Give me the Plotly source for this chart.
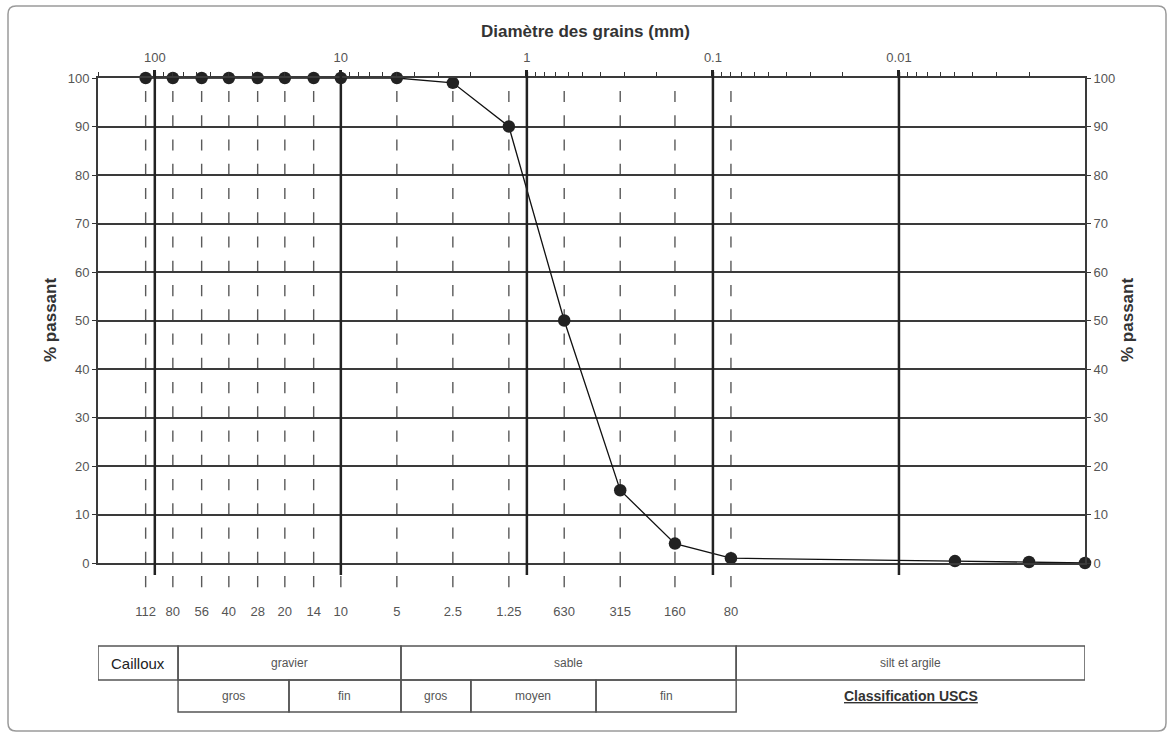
import math
import plotly.graph_objects as go

# ---------------- data ----------------
sieve_mm = [112, 80, 56, 40, 28, 20, 14, 10, 5, 2.5, 1.25, 0.63, 0.315, 0.16, 0.08]
sieve_labels = ["112", "80", "56", "40", "28", "20", "14", "10", "5", "2.5", "1.25",
                "630", "315", "160", "80"]
fine_mm = [0.005, 0.002, 0.001]
diam_mm = sieve_mm + fine_mm
passing = [100, 100, 100, 100, 100, 100, 100, 100, 100, 99, 90, 50, 15, 4, 1, 0.4, 0.2, 0]
decades = [100, 10, 1, 0.1, 0.01]
decade_labels = ["100", "10", "1", "0.1", "0.01"]
y_ticks = list(range(0, 101, 10))

x_max_mm = 202
x_min_mm = 0.001
# USCS class boundaries (mm)
b_cail, b_grav_gf, b_grav_sab, b_sab_gm, b_sab_mf, b_sab_silt = 75, 19, 4.75, 2.0, 0.425, 0.075
row1_cells = [(x_max_mm, b_cail, "Cailloux"), (b_cail, b_grav_sab, "gravier"),
              (b_grav_sab, b_sab_silt, "sable"), (b_sab_silt, x_min_mm, "silt et argile")]
row2_cells = [(b_cail, b_grav_gf, "gros"), (b_grav_gf, b_grav_sab, "fin"),
              (b_grav_sab, b_sab_gm, "gros"), (b_sab_gm, b_sab_mf, "moyen"),
              (b_sab_mf, b_sab_silt, "fin")]
classif_text = "Classification USCS"

# ---------------- layout geometry ----------------
W, H = 1173, 736
L, R, T, B = 98, 88, 78, 173
PW, PH = W - L - R, H - T - B


def py(pix):  # pixel y -> paper y
    return (H - B - pix) / PH


def px(pix):  # pixel x -> paper x
    return (pix - L) / PW


xr = [math.log10(x_max_mm), math.log10(x_min_mm)]
minor_vals = [m * 10 ** k for k in range(-3, 3) for m in range(2, 10)
              if x_min_mm < m * 10 ** k < x_max_mm]

DARK = "#333333"
GRID = "#3a3a3a"
LABEL = "#555555"
FONT = "Liberation Sans, Arial, sans-serif"

fig = go.Figure()
fig.add_trace(go.Scatter(
    x=diam_mm, y=passing, mode="lines+markers",
    line=dict(color="#111111", width=1.3),
    marker=dict(color="#222222", size=12.5),
    cliponaxis=False, showlegend=False, hoverinfo="x+y"))
# helper traces to activate top and right axes
fig.add_trace(go.Scatter(x=diam_mm, y=passing, xaxis="x2", yaxis="y", mode="markers",
                         marker=dict(opacity=0), hoverinfo="skip", showlegend=False))
fig.add_trace(go.Scatter(x=diam_mm, y=passing, xaxis="x", yaxis="y2", mode="markers",
                         marker=dict(opacity=0), hoverinfo="skip", showlegend=False))

shapes = []
# dashed sieve lines
period = PH / 20.0
for s in sieve_mm:
    shapes.append(dict(type="line", xref="x", yref="paper", x0=s, x1=s,
                       y0=py(H - B + period), y1=py(T + 12.5),
                       line=dict(color="#5a5a5a", width=1.4,
                                 dash="%.2fpx,%.2fpx" % (period * 0.46, period * 0.54)),
                       layer="below"))
# decade lines
for d in decades:
    shapes.append(dict(type="line", xref="x", yref="paper", x0=d, x1=d,
                       y0=py(H - B + 12), y1=py(T - 6),
                       line=dict(color="#222222", width=2.5), layer="above"))

# table
r1_top, r1_bot, r2_bot = py(646), py(680), py(712)
tbl_line = dict(color="#555555", width=1.5)
for (a, b, _) in row1_cells:
    shapes.append(dict(type="rect", xref="x", yref="paper", x0=a, x1=b,
                       y0=r1_bot, y1=r1_top, line=tbl_line))
for (a, b, _) in row2_cells:
    shapes.append(dict(type="rect", xref="x", yref="paper", x0=a, x1=b,
                       y0=r2_bot, y1=r1_bot, line=tbl_line))

# outer rounded frame
fx0, fx1, fy0, fy1 = px(8), px(1166), py(731), py(6)
rx, ry = 8 / PW, 8 / PH
path = (f"M {fx0+rx},{fy1} L {fx1-rx},{fy1} Q {fx1},{fy1} {fx1},{fy1-ry} "
        f"L {fx1},{fy0+ry} Q {fx1},{fy0} {fx1-rx},{fy0} L {fx0+rx},{fy0} "
        f"Q {fx0},{fy0} {fx0},{fy0+ry} L {fx0},{fy1-ry} Q {fx0},{fy1} {fx0+rx},{fy1} Z")
shapes.append(dict(type="path", xref="paper", yref="paper", path=path,
                   line=dict(color="#9a9a9a", width=1.5)))

annotations = []


def mid(a, b):
    return (math.log10(a) + math.log10(b)) / 2


for (a, b, t) in row1_cells:
    big = t == "Cailloux"
    annotations.append(dict(x=mid(a, b), y=(r1_top + r1_bot) / 2, xref="x", yref="paper",
                            text=t, showarrow=False, xanchor="center", yanchor="middle",
                            font=dict(family=FONT, size=15 if big else 12,
                                      color="#222222" if big else LABEL)))
for (a, b, t) in row2_cells:
    annotations.append(dict(x=mid(a, b), y=(r1_bot + r2_bot) / 2, xref="x", yref="paper",
                            text=t, showarrow=False, xanchor="center", yanchor="middle",
                            font=dict(family=FONT, size=12, color=LABEL)))
annotations.append(dict(x=mid(b_sab_silt, x_min_mm), y=(r1_bot + r2_bot) / 2, xref="x",
                        yref="paper", text="<u><b>%s</b></u>" % classif_text,
                        showarrow=False, xanchor="center", yanchor="middle",
                        font=dict(family=FONT, size=14, color="#333333")))
annotations.append(dict(x=px(585), y=py(32), xref="paper", yref="paper",
                        text="<b>Diamètre des grains (mm)</b>", showarrow=False,
                        xanchor="center", yanchor="middle",
                        font=dict(family=FONT, size=17, color="#333333")))
for xpix in (50, 1127):
    annotations.append(dict(x=px(xpix), y=py(320), xref="paper", yref="paper",
                            text="<b>% passant</b>", showarrow=False, textangle=-90,
                            xanchor="center", yanchor="middle",
                            font=dict(family=FONT, size=17, color="#333333")))

fig.update_layout(
    width=W, height=H,
    margin=dict(l=L, r=R, t=T, b=B, autoexpand=False),
    paper_bgcolor="white", plot_bgcolor="white",
    font=dict(family=FONT, size=12, color=LABEL),
    showlegend=False,
    xaxis=dict(type="log", range=xr, tickmode="array", tickvals=sieve_mm,
               ticktext=sieve_labels, ticks="", showgrid=False, zeroline=False,
               showline=True, linecolor=GRID, linewidth=2,
               ticklabelstandoff=35, tickfont=dict(size=13, color=LABEL)),
    xaxis2=dict(type="log", range=xr, overlaying="x", side="top", anchor="y",
                tickmode="array", tickvals=decades, ticktext=decade_labels,
                ticks="outside", ticklen=6, tickwidth=2.5, tickcolor="#222222",
                minor=dict(tickmode="array", tickvals=minor_vals, ticks="outside",
                           ticklen=4, tickwidth=1.2, tickcolor=DARK, showgrid=False),
                showgrid=False, zeroline=False, showline=True, linecolor=GRID,
                linewidth=2, ticklabelstandoff=3, tickfont=dict(size=13, color=LABEL)),
    yaxis=dict(range=[0, 100], tickmode="array", tickvals=y_ticks, ticks="outside",
               ticklen=4, tickcolor=DARK, showgrid=True, gridcolor=GRID, gridwidth=2,
               zeroline=False, showline=True, linecolor=GRID, linewidth=2,
               tickfont=dict(size=13, color=LABEL)),
    yaxis2=dict(range=[0, 100], overlaying="y", side="right", anchor="x",
                tickmode="array", tickvals=y_ticks, ticks="outside", ticklen=4,
                tickcolor=DARK, showgrid=False, zeroline=False, showline=True,
                linecolor=GRID, linewidth=2, tickfont=dict(size=13, color=LABEL)),
    shapes=shapes, annotations=annotations,
)

fig.write_html("out.html")
